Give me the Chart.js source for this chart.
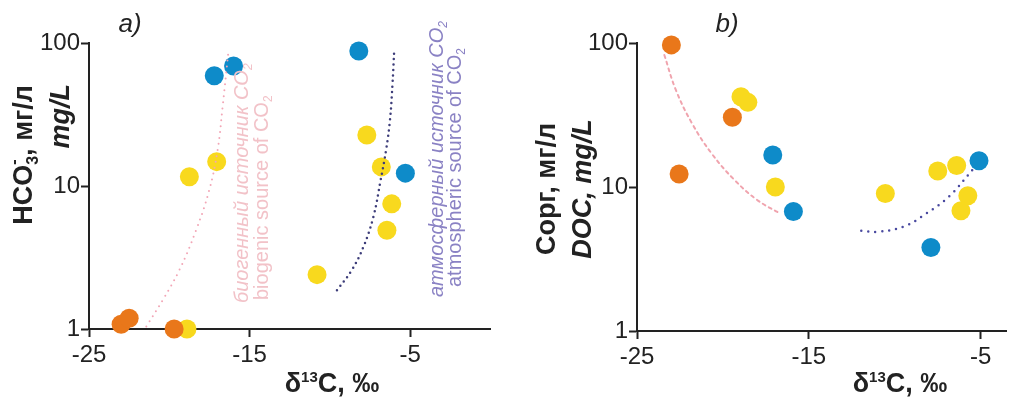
<!DOCTYPE html>
<html>
<head>
<meta charset="utf-8">
<script src="https://cdn.jsdelivr.net/npm/chart.js@4.4.1/dist/chart.umd.min.js"></script>
<style>
  body { margin: 0; background: #fff; }
  #wrap { position: relative; width: 1016px; height: 398px; }
  canvas { position: absolute; top: 0; }
  #chartA { left: 0; }
  #chartB { left: 500px; }
</style>
</head>
<body>
<div id="wrap">
  <canvas id="chartA" width="500" height="398"></canvas>
  <canvas id="chartB" width="516" height="398"></canvas>
</div>
<script>
const xTicks = [-25, -15, -5];
const yTicks = [1, 10, 100];

// a) HCO3- vs d13C
const aOrangeX = [-23.0, -22.5, -19.7];
const aOrangeY = [1.08, 1.19, 1.0];
const aYellowX = [-18.9, -18.75, -17.05, -7.7, -6.8, -6.15, -6.45, -10.8];
const aYellowY = [1.0, 11.6, 14.8, 22.7, 13.6, 7.5, 4.9, 2.4];
const aBlueX = [-17.2, -16.0, -8.2, -5.3];
const aBlueY = [59, 69, 88, 12.3];
// trend lines
const aBioX = [-21.43, -20.4, -19.37, -18.33, -17.51, -16.99, -16.68, -16.31];
const aBioY = [1.04, 1.6, 2.59, 4.92, 9.38, 17.9, 35.9, 89.3];
const aAtmX = [-9.56, -8.63, -7.91, -7.29, -6.84, -6.5, -6.26, -6.1, -5.99];
const aAtmY = [1.87, 2.59, 3.76, 6.1, 11.0, 17.9, 28.9, 52.3, 91.8];

// b) DOC vs d13C
const bOrangeX = [-23.0, -22.55, -19.45];
const bOrangeY = [97, 12.3, 30.5];
const bYellowX = [-18.95, -18.55, -16.95, -10.55, -7.5, -6.4, -5.75, -6.15];
const bYellowY = [42.4, 38.7, 10.0, 9.0, 12.9, 14.1, 8.7, 6.85];
const bBlueX = [-17.1, -15.9, -7.9, -5.1];
const bBlueY = [16.7, 6.75, 3.8, 15.2];
const bBioX = [-23.41, -22.74, -21.8, -20.66, -19.33, -18.01, -16.69];
const bBioY = [82.6, 47.2, 27.7, 17.1, 11.2, 8.13, 6.56];
const bAtmX = [-11.95, -11.0, -9.5, -8.15, -6.85, -5.4];
const bAtmY = [4.97, 4.89, 5.3, 6.56, 8.57, 13.5];

const FONT = "'Liberation Sans', Arial, sans-serif";
const AXIS = '#222';
const ORANGE = '#e9771a', YELLOW = '#f8d91e', BLUE = '#0e8bc9';
const PINK_TXT = '#f2c2c8', PURPLE_TXT = '#8a82c4';

function pts(xs, ys) { return xs.map((x, i) => ({ x: x, y: ys[i] })); }

function dots(xs, ys, color, order) {
  return { data: pts(xs, ys), backgroundColor: color, borderWidth: 0, pointRadius: 9.5,
           pointHoverRadius: 9.5, clip: false, order: order };
}
function curve(xs, ys, color, width, dash) {
  return { data: pts(xs, ys), showLine: true, borderColor: color, borderWidth: width,
           borderDash: dash, borderCapStyle: 'round', pointRadius: 0, tension: 0.4,
           fill: false, clip: false, order: 0 };
}

function scales(xMax, yWidth, xHeight) {
  const tickFont = { family: FONT, size: 24 };
  const grid = { drawOnChartArea: false, drawTicks: true, tickLength: 8, tickColor: AXIS, tickWidth: 2 };
  return {
    x: {
      type: 'linear', min: -25, max: xMax,
      afterBuildTicks: s => { s.ticks = xTicks.map(v => ({ value: v })); },
      afterFit: s => { s.height = xHeight; },
      ticks: { font: tickFont, color: AXIS, padding: 4, maxRotation: 0, autoSkip: false, callback: v => String(v) },
      grid: grid, border: { color: AXIS, width: 2 }
    },
    y: {
      type: 'logarithmic', min: 1, max: 100,
      afterBuildTicks: s => { s.ticks = yTicks.map(v => ({ value: v })); },
      afterFit: s => { s.width = yWidth; },
      ticks: { font: tickFont, color: AXIS, padding: 1, autoSkip: false, callback: v => String(v) },
      grid: grid, border: { color: AXIS, width: 2 }
    }
  };
}

// text drawn in pieces so sub/superscripts and mixed styles work
function drawItem(ctx, it) {
  ctx.save();
  ctx.translate(it.x, it.y);
  if (it.rot) ctx.rotate(-Math.PI / 2);
  ctx.fillStyle = it.color || AXIS;
  ctx.textBaseline = 'alphabetic';
  ctx.textAlign = 'left';
  let total = 0;
  const w = it.segs.map(s => {
    ctx.font = s[1];
    const m = ctx.measureText(s[0]).width;
    if (!s[3]) total += m;
    return m;
  });
  let cx = it.align === 'right' ? -total : it.align === 'center' ? -total / 2 : 0;
  it.segs.forEach((s, i) => {
    ctx.font = s[1];
    ctx.fillText(s[0], cx, s[2] || 0);
    if (!s[3]) cx += w[i];
  });
  ctx.restore();
}
function textPlugin(items) {
  return { id: 'texts', afterDraw(chart) { items.forEach(it => drawItem(chart.ctx, it)); } };
}

const B27 = `bold 27px ${FONT}`, BI27 = `italic bold 27px ${FONT}`;
const B27x = `bold 27px ${FONT}`, B15 = `bold 15px ${FONT}`, B16 = `bold 16px ${FONT}`;
const I26 = `italic 26px ${FONT}`, I20 = `italic 20px ${FONT}`, R20 = `20px ${FONT}`;
const I12 = `italic 12px ${FONT}`, R12 = `12px ${FONT}`;

function xTitle(cx) {
  return { x: cx, y: 392, align: 'center', segs: [['δ', B27x], ['13', B15, -10], ['C, ‰', B27x]] };
}

const textsA = [
  { x: 130, y: 32, align: 'center', segs: [['a)', I26]] },
  { x: 32, y: 85, rot: true, align: 'right',
    segs: [['HCO', B27], ['-', B16, -13, true], ['3', B16, 6], [', мг/л', B27]] },
  { x: 69, y: 84, rot: true, align: 'right', segs: [['mg/L', BI27]] },
  xTitle(332),
  { x: 248, y: 303, rot: true, color: PINK_TXT, segs: [['биогенный источник CO', I20], ['2', I12, 4]] },
  { x: 268, y: 300, rot: true, color: PINK_TXT, segs: [['biogenic source of CO', R20], ['2', R12, 4]] },
  { x: 443, y: 297, rot: true, color: PURPLE_TXT, segs: [['атмосферный источник CO', I20], ['2', I12, 4]] },
  { x: 461, y: 287, rot: true, color: PURPLE_TXT, segs: [['atmospheric source of CO', R20], ['2', R12, 4]] }
];

const textsB = [
  { x: 227, y: 32, align: 'center', segs: [['b)', I26]] },
  { x: 55, y: 189, rot: true, align: 'center', segs: [['Сорг, мг/л', B27]] },
  { x: 91, y: 189, rot: true, align: 'center', segs: [['DOC, mg/L', BI27]] },
  xTitle(400)
];

const common = {
  responsive: false, animation: false, events: [],
  plugins: { legend: { display: false }, tooltip: { enabled: false } }
};

new Chart(document.getElementById('chartA').getContext('2d'), {
  type: 'scatter',
  data: { datasets: [
    curve(aBioX, aBioY, '#f2a6b6', 2, [0, 6]),
    curve(aAtmX, aAtmY, '#3d3d7a', 2.5, [0, 5.5]),
    dots(aOrangeX, aOrangeY, ORANGE, 1),
    dots(aBlueX, aBlueY, BLUE, 2),
    dots(aYellowX, aYellowY, YELLOW, 3)
  ] },
  options: Object.assign({}, common, {
    layout: { padding: { left: 0, top: 43, right: 6, bottom: 0 } },
    scales: scales(0, 89, 69)
  }),
  plugins: [textPlugin(textsA)]
});

new Chart(document.getElementById('chartB').getContext('2d'), {
  type: 'scatter',
  data: { datasets: [
    curve(bBioX, bBioY, '#f0a4ae', 2, [3, 4]),
    curve(bAtmX, bAtmY, '#4a4aa0', 2.5, [0, 7]),
    dots(bOrangeX, bOrangeY, ORANGE, 1),
    dots(bBlueX, bBlueY, BLUE, 2),
    dots(bYellowX, bYellowY, YELLOW, 3)
  ] },
  options: Object.assign({}, common, {
    layout: { padding: { left: 0, top: 43, right: 0, bottom: 0 } },
    scales: scales(-3.5, 137, 67)
  }),
  plugins: [textPlugin(textsB)]
});
</script>
</body>
</html>
